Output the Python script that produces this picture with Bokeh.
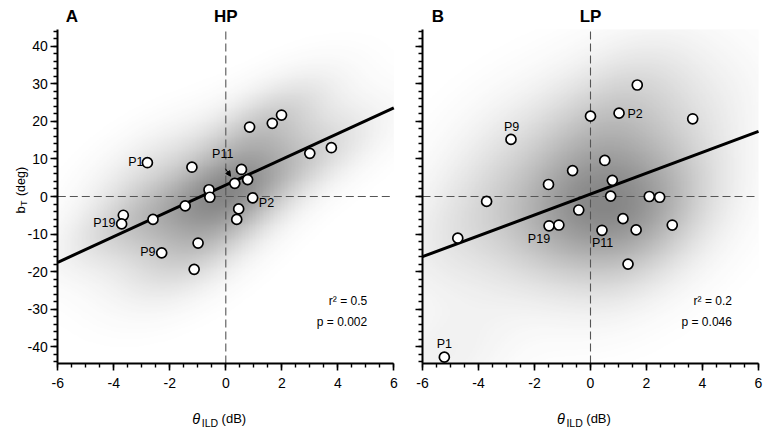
import numpy as np
from bokeh.plotting import figure
from bokeh.layouts import row
from bokeh.models import (Label, Arrow, NormalHead, Range1d, SingleIntervalTicker,
                          LinearColorMapper)
from bokeh.embed import file_html
from bokeh.resources import INLINE

# ---------------- data ----------------
hp_x = [-2.8, -1.21, 0.85, 1.66, 1.99, 3.0, 3.77, 0.32, 0.56, 0.78, 0.96,
        -0.6, -0.57, -1.45, 0.46, 0.39, -3.66, -3.72, -2.6, -2.29, -0.99, -1.13]
hp_y = [9.0, 7.8, 18.5, 19.5, 21.7, 11.5, 13.0, 3.5, 7.2, 4.5, -0.35,
        1.8, -0.2, -2.5, -3.3, -6.1, -5.0, -7.3, -6.1, -15.0, -12.4, -19.4]

lp_x = [1.67, 0.0, 1.02, 3.65, -2.84, 0.51, -0.64, 0.78, -1.5, 0.72, 2.1,
        2.47, -3.71, -0.42, -4.74, -1.48, -1.13, 0.41, 1.16, 1.63, 2.92, 1.34, -5.22]
lp_y = [29.7, 21.4, 22.2, 20.7, 15.2, 9.6, 6.9, 4.3, 3.2, 0.1, 0.0,
        -0.2, -1.3, -3.6, -11.1, -7.8, -7.6, -9.0, -5.9, -8.9, -7.6, -18.0, -42.8]

hp_fit = (3.43, 3.05)   # slope, intercept
lp_fit = (2.78, 0.65)

hp_stats = ["r\u00b2 = 0.5", "p = 0.002"]
lp_stats = ["r\u00b2 = 0.2", "p = 0.046"]

hp_labels = ["P1", "P11", "P2", "P19", "P9"]
lp_labels = ["P9", "P2", "P19", "P11", "P1"]

x_ticks = [-6, -4, -2, 0, 2, 4, 6]
x_tick_labels = ["-6", "-4", "-2", "0", "2", "4", "6"]
y_ticks = [-40, -30, -20, -10, 0, 10, 20, 30, 40]
y_tick_labels = ["-40", "-30", "-20", "-10", "0", "10", "20", "30", "40"]
X_LIM = (-6, 6)
Y_LIM = (-44.5, 44.5)

# ---------------- styles / layout ----------------
FONT = "Liberation Sans"
H = 428
SX = 28.0      # px per x unit
SY = 3.754     # px per y unit
ORIGIN_Y = 196.0

hp_label_pos = [(-2.94, 9.06, "right"), (-0.11, 11.2, "center"), (1.18, -1.86, "left"),
                (-3.94, -7.19, "right"), (-2.51, -14.9, "right")]
lp_label_pos = [(-2.82, 18.46, "center"), (1.32, 22.1, "left"), (-1.84, -11.19, "center"),
                (0.43, -12.5, "center"), (-5.22, -39.2, "center")]

grays = [f"#{v:02x}{v:02x}{v:02x}" for v in np.linspace(255, 134, 160).astype(int)]


def kde_grid(xs, ys, gx, gy, widen=1.25):
    data = np.vstack([xs, ys])
    n = data.shape[1]
    factor = n ** (-1.0 / 6.0) * widen
    cov = np.cov(data) * factor ** 2
    inv = np.linalg.inv(cov)
    X, Y = np.meshgrid(gx, gy)
    dens = np.zeros_like(X)
    for xi, yi in zip(xs, ys):
        dx = X - xi
        dy = Y - yi
        q = inv[0, 0] * dx * dx + 2 * inv[0, 1] * dx * dy + inv[1, 1] * dy * dy
        dens += np.exp(-0.5 * q)
    return dens / dens.max()


def lab(p, x, y, text, size, align="left", baseline="alphabetic", style="normal", angle=0):
    p.add_layout(Label(x=x, y=y, text=text, text_align=align, text_baseline=baseline,
                       text_font=FONT, text_font_size=size, text_font_style=style,
                       text_color="black", angle=angle))


def make_panel(xs, ys, fit, stats, labels, label_pos, letter, letter_x, title,
               width, origin_x, show_ylabels):
    x_range = Range1d(-origin_x / SX, (width - origin_x) / SX)
    y_range = Range1d((ORIGIN_Y - H) / SY, ORIGIN_Y / SY)
    p = figure(width=width, height=H, output_backend="svg", toolbar_location=None,
               x_range=x_range, y_range=y_range, min_border=0)
    p.outline_line_color = None
    p.grid.visible = False
    p.background_fill_color = "white"
    p.border_fill_color = "white"

    gx = np.linspace(X_LIM[0], X_LIM[1], 241)
    gy = np.linspace(Y_LIM[0], Y_LIM[1], 357)
    dens = kde_grid(np.array(xs), np.array(ys), gx, gy)
    mapper = LinearColorMapper(palette=grays, low=0, high=1)
    p.image(image=[dens], x=X_LIM[0], y=Y_LIM[0],
            dw=X_LIM[1] - X_LIM[0], dh=Y_LIM[1] - Y_LIM[0], color_mapper=mapper)

    # reference zero lines
    p.segment(x0=[0, X_LIM[0]], y0=[Y_LIM[0], 0], x1=[0, X_LIM[1]], y1=[Y_LIM[1], 0],
              line_color="#555555", line_width=1.1, line_dash="8 4")

    # regression line
    lx = np.array(X_LIM, dtype=float)
    p.line(lx, fit[0] * lx + fit[1], line_color="black", line_width=3)

    p.scatter(xs, ys, size=10, fill_color="white", line_color="black", line_width=1.7)

    # axes, fixed at the data frame edges
    p.xaxis.fixed_location = Y_LIM[0]
    p.xaxis.bounds = X_LIM
    p.yaxis.fixed_location = X_LIM[0]
    p.yaxis.bounds = Y_LIM
    for ax in (p.xaxis[0], p.yaxis[0]):
        ax.axis_line_width = 2
        ax.axis_line_color = "black"
        ax.major_tick_line_width = 1.6
        ax.minor_tick_line_width = 1.4
        ax.major_tick_in = 0
        ax.minor_tick_in = 0
        ax.major_tick_out = 7
        ax.minor_tick_out = 4
        ax.major_label_text_font = FONT
        ax.major_label_text_font_size = "14px"
        ax.major_label_text_color = "black"
    p.xaxis.ticker = SingleIntervalTicker(interval=x_ticks[1] - x_ticks[0], num_minor_ticks=4)
    p.yaxis.ticker = SingleIntervalTicker(interval=y_ticks[1] - y_ticks[0], num_minor_ticks=5)
    p.xaxis.major_label_overrides = dict(zip(x_ticks, x_tick_labels))
    p.yaxis.major_label_overrides = dict(zip(y_ticks, y_tick_labels))
    p.xaxis.major_label_standoff = 7
    p.yaxis.major_label_standoff = 3
    if not show_ylabels:
        p.yaxis.major_label_text_color = None

    # point labels
    for t, (lxp, lyp, al) in zip(labels, label_pos):
        lab(p, lxp, lyp, t, "12.5px", align=al, baseline="middle")

    # stats
    lab(p, 5.05, -27.9, stats[0], "12px", align="right", baseline="middle")
    lab(p, 5.05, -33.5, stats[1], "12px", align="right", baseline="middle")

    # titles
    lab(p, letter_x, 47.9, letter, "17px", align="center", style="bold")
    lab(p, 0, 47.9, title, "17px", align="center", style="bold")

    # x axis label: theta_ILD (dB)
    lab(p, -1.2, -59.2, "\u03b8", "14.5px", style="italic")
    lab(p, -0.86, -60.4, "ILD", "10.5px")
    lab(p, -0.15, -59.2, "(dB)", "13px")
    return p


left = make_panel(hp_x, hp_y, hp_fit, hp_stats, hp_labels, hp_label_pos, "A", -5.5, "HP",
                  400, 225.3, True)
right = make_panel(lp_x, lp_y, lp_fit, lp_stats, lp_labels, lp_label_pos, "B", -5.45, "LP",
                   365, 190.0, False)

# arrow pointing at P11 in HP panel
left.add_layout(Arrow(end=NormalHead(size=5, fill_color="black", line_color="black"),
                      x_start=-0.01, y_start=7.38, x_end=0.17, y_end=5.4,
                      line_width=1, line_color="black"))

# y axis label: b_T (deg), rotated
ang = np.pi / 2
lab(left, -7.33, -4.53, "b", "13px", angle=ang)
lab(left, -7.2, -2.5, "T", "9px", angle=ang)
lab(left, -7.33, 0.1, "(deg)", "12.5px", angle=ang)

layout = row(left, right)
open("out.html", "w").write(file_html(layout, INLINE))
